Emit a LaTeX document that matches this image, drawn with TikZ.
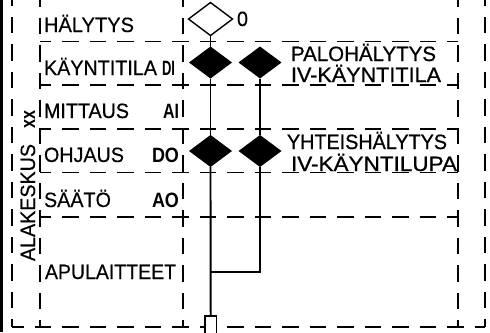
\documentclass[tikz,border=0pt]{standalone}
\usepackage{fontspec}
\usepackage{graphicx}
\setmainfont{Liberation Sans}
\newfontfamily\lightfont[FakeBold=0.35]{Liberation Sans}
\newfontfamily\medfont[FakeBold=0.7]{Liberation Sans}
\newsavebox{\fwbox}
\newcommand{\fw}[2]{\sbox{\fwbox}{\fontsize{20}{22}\selectfont #2}\pgfmathsetmacro{\fwsx}{#1*1.00375/\wd\fwbox}\scalebox{\fwsx}[1.04]{\usebox{\fwbox}}}
\usetikzlibrary{shapes.geometric}
\tikzset{
  lab/.style={inner sep=0pt,outer sep=0pt,anchor=base west,text=black},
  vlab/.style={lab,rotate=90},
  dashh/.style={line width=1.6bp,dash pattern=on 16.7bp off 10.8bp,dash phase=5.5bp},
  dashv/.style={line width=1.6bp,dash pattern=on 16.7bp off 10.8bp,dash phase=9.7bp},
  dashw/.style={line width=1.6bp,dash pattern=on 16.7bp off 10.8bp,dash phase=8.7bp},
  conn/.style={line width=1.9bp,black},
  dia/.style={shape=diamond,inner sep=0pt,outer sep=0pt,minimum width=43bp,minimum height=32bp},
  opendia/.style={dia,draw=black,line width=1.4bp,fill=white,minimum width=44bp,minimum height=33bp},
  soliddia/.style={dia,fill=black},
  termbox/.style={draw=black,line width=1.7bp,inner sep=0pt,minimum width=11.5bp,minimum height=24bp,fill=white}
}
\begin{document}
\begin{tikzpicture}[x=1bp,y=-1bp]
\useasboundingbox (0,0) rectangle (490,332);
\fill[black] (0,0) rectangle (3,332);
% frame lines
\foreach \yy in {41.5,85,129,172.5,217}{\draw[dashh] (40,\yy) -- (458,\yy);}
\draw[dashh,dash phase=5bp] (12,327) -- (485,327);
\foreach \xx in {40,183,458}{\draw[dashv] (\xx,327) -- (\xx,-10);}
\foreach \xx in {12,485}{\draw[dashw] (\xx,327) -- (\xx,-10);}
% symbols
\node[termbox] (tb) at (210.7,328) {};
\node[opendia] (d0) at (210.5,19) {};
\node[soliddia] (d1) at (210.5,62.5) {};
\node[soliddia] (d2) at (260,62.5) {};
\node[soliddia] (d3) at (210.5,151) {};
\node[soliddia] (d4) at (260,151) {};
\coordinate (j) at (210.5,272);
\draw[conn] (d0.south) -- (d1.north);
\draw[conn] (d1.south) -- (d3.north);
\draw[conn] (d2.south) -- (d4.north);
\draw[conn] (d3.south) -- (tb.north);
\draw[conn] (d4.south) |- (j);
% labels
\node[lab] (t1) at (44,32) {\fw{90}{\lightfont HÄLYTYS}};
\node[lab] (t2) at (44,75) {\fw{113}{\lightfont KÄYNTITILA}};
\node[lab] (t3) at (162,75) {\fw{13}{\bfseries DI}};
\node[lab] (t4) at (44,118) {\fw{85}{\medfont MITTAUS}};
\node[lab] (t5) at (163,118) {\fw{16}{\bfseries AI}};
\node[lab] (t6) at (44,162) {\fw{80}{\lightfont OHJAUS}};
\node[lab] (t7) at (152,162) {\fw{27}{\bfseries DO}};
\node[lab] (t8) at (44,207) {\fw{67}{\lightfont SÄÄTÖ}};
\node[lab] (t9) at (152,207) {\fw{27}{\bfseries AO}};
\node[lab] (t10) at (45,279) {\fw{131}{\lightfont APULAITTEET}};
\node[vlab] (t11) at (35,261) {\fw{117}{\lightfont ALAKESKUS}};
\node[vlab] (t12) at (35,128) {\fw{18}{\bfseries xx}};
\node[lab] (t13) at (237,26) {\fw{11}{\lightfont 0}};
\node[lab] (t14) at (291,61) {\fw{145}{\medfont PALOHÄLYTYS}};
\node[lab] (t15) at (291,82) {\fw{150}{\medfont IV-KÄYNTITILA}};
\node[lab] (t16) at (287,149) {\fw{160}{\medfont YHTEISHÄLYTYS}};
\node[lab] (t17) at (291,171) {\fw{166}{\medfont IV-KÄYNTILUPA}};
\end{tikzpicture}
\end{document}
